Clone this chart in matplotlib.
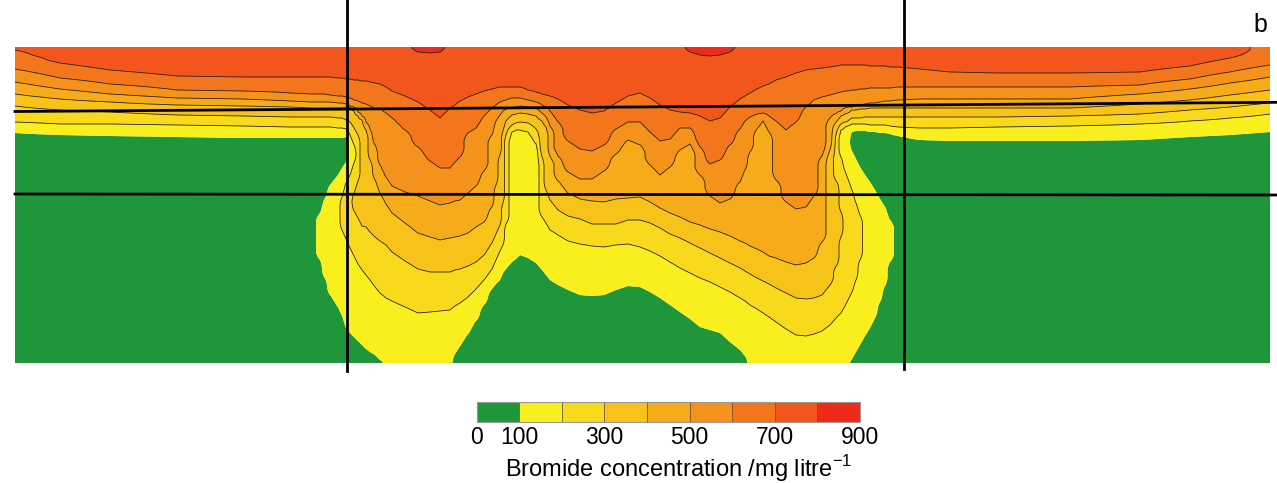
import numpy as np
import matplotlib
matplotlib.use("Agg")
import matplotlib.pyplot as plt

plt.rcParams['font.family'] = ['Liberation Sans', 'DejaVu Sans']

# concentration classes (mg/l) and their colours
levels = [0, 100, 200, 300, 400, 500, 600, 700, 800, 900]
band_colors = ['#1f963a', '#f9ef1f', '#f8d91c', '#f7c21a', '#f5ab1a',
               '#f4921b', '#f3751c', '#f2561c', '#ef2a1a']
line_levels = [200, 300, 400, 500, 600, 700, 800]
tick_values = [0, 100, 300, 500, 700, 900]
cbar_label = 'Bromide concentration /mg litre$^{\\mathregular{-1}}$'
panel_label = 'b'

# vertical profiles.
# each entry: x position, then (depth, concentration) where the profile enters a new class
left_side = [
    (15, [(47, 750), (50, 650), (69, 550), (82, 450), (94, 350), (106, 250), (122, 150), (133, 50)]),
    (60, [(47, 750), (63, 650), (78, 550), (89, 450), (99, 350), (110, 250), (124, 150), (135, 50)]),
    (110, [(47, 750), (70, 650), (84, 550), (94, 450), (102, 350), (112, 250), (124, 150), (136, 50)]),
    (177, [(47, 750), (76, 650), (90, 550), (98, 450), (105, 350), (115, 250), (125, 150), (137, 50)]),
    (243, [(47, 750), (77, 650), (91, 550), (99, 450), (106, 350), (116, 250), (126, 150), (138, 50)]),
    (290, [(47, 750), (77, 650), (93, 550), (101, 450), (107, 350), (117, 250), (127, 150), (138, 50)]),
    (312, [(47, 750), (77, 650), (94, 550), (102, 450), (108, 350), (117, 250), (127, 150), (138, 50)]),
]

left_lobe = [
    (320, [(47, 750), (77, 650), (94, 550), (102, 450), (108, 350), (117, 250), (127, 150), (138, 50),
           (213, 150), (260, 50)]),
    (324, [(47, 750), (77, 650), (94, 550), (102, 450), (108, 350), (117, 250), (127, 150), (138, 50),
           (200, 150), (277, 50)]),
    (330, [(47, 750), (77, 650), (95, 550), (102, 450), (108, 350), (117, 250), (127, 150), (138, 50),
           (185, 150), (295, 50)]),
    (338, [(47, 750), (78, 650), (96, 550), (103, 450), (108, 350), (118, 250), (128, 150), (138, 50),
           (175, 150), (307, 50)]),
    (342, [(47, 750), (78, 650), (96, 550), (103, 450), (108, 350), (118, 250), (128, 150), (138, 50),
           (168, 150), (197, 250), (230, 150), (316, 50)]),
    (346, [(47, 750), (79, 650), (97, 550), (104, 450), (107, 350), (120, 250), (129, 150), (137, 50),
           (162, 150), (183, 250), (239, 150), (328, 50)]),
    (350, [(47, 750), (79, 650), (98, 550), (106, 450), (107, 350), (122, 250), (135, 150), (175, 250),
           (248, 150), (333, 50)]),
    (354, [(47, 750), (80, 650), (100, 550), (107, 450), (111, 350), (128, 250), (145, 150), (163, 250),
           (193, 350), (211, 250), (256, 150), (337, 50)]),
    (358, [(47, 750), (80, 650), (101, 550), (112, 450), (116, 350), (135, 250), (181, 350), (218, 250),
           (264, 150), (341, 50)]),
    (362, [(47, 750), (81, 650), (103, 550), (116, 450), (120, 350), (226, 250), (270, 150), (345, 50)]),
    (366, [(47, 750), (81, 650), (104, 550), (122, 450), (130, 350), (227, 250), (275, 150), (349, 50)]),
    (370, [(47, 750), (82, 650), (106, 550), (129, 450), (160, 350), (232, 250), (280, 150), (352, 50)]),
    (375, [(47, 750), (83, 650), (108, 550), (145, 450), (180, 350), (237, 250), (287, 150), (355, 50)]),
    (380, [(47, 750), (84, 650), (109, 550), (165, 450), (193, 350), (241, 250), (293, 150), (360, 50)]),
    (386, [(47, 750), (87, 650), (113, 550), (177, 450), (204, 350), (245, 250), (298, 150)]),
    (392, [(47, 750), (91, 650), (118, 550), (186, 450), (213, 350), (252, 250), (301, 150)]),
    (405, [(47, 750), (96, 650), (130, 550), (192, 450), (223, 350), (261, 250), (307, 150)]),
    (418, [(47, 850), (52, 750), (102, 650), (147, 550), (196, 450), (233, 350), (269, 250), (313, 150)]),
    (430, [(47, 850), (53, 750), (110, 650), (161, 550), (201, 450), (237, 350), (272, 250), (312, 150)]),
    (440, [(47, 850), (52, 750), (118, 650), (168, 550), (205, 450), (240, 350), (272, 250), (311, 150)]),
    (450, [(47, 750), (108, 650), (168, 550), (203, 450), (238, 350), (272, 250), (310, 150)]),
    (455, [(47, 750), (105, 650), (162, 550), (201, 450), (237, 350), (270, 250), (306, 150), (354, 50)]),
    (460, [(47, 750), (101, 650), (157, 550), (200, 450), (236, 350), (269, 250), (303, 150), (346, 50)]),
    (468, [(47, 750), (97, 650), (133, 550), (193, 450), (233, 350), (266, 250), (297, 150), (334, 50)]),
    (476, [(47, 750), (94, 650), (128, 550), (186, 450), (227, 350), (262, 250), (289, 150), (321, 50)]),
    (484, [(47, 750), (91, 650), (116, 550), (171, 450), (222, 350), (255, 250), (280, 150), (305, 50)]),
    (492, [(47, 750), (89, 650), (108, 550), (135, 450), (207, 350), (243, 250), (269, 150), (289, 50)]),
    (496, [(47, 750), (88, 650), (105, 550), (121, 450), (185, 350), (234, 250), (260, 150), (284, 50)]),
    (500, [(47, 750), (87, 650), (102, 550), (115, 450), (155, 350), (225, 250), (251, 150), (280, 50)]),
]

bulb = [
    (503, [(47, 750), (87, 650), (101, 550), (111, 450), (131, 350), (203, 250), (245, 150), (273, 50)]),
    (506, [(47, 750), (87, 650), (100, 550), (109, 450), (121, 350), (135, 250), (224, 150), (269, 50)]),
    (512, [(47, 750), (87, 650), (98, 550), (108, 450), (115, 350), (125, 250), (132, 150), (262, 50)]),
    (516, [(47, 750), (87, 650), (98, 550), (107, 450), (114, 350), (123, 250), (130, 150), (259, 50)]),
    (520, [(47, 750), (87, 650), (98, 550), (106, 450), (113, 350), (122, 250), (130, 150), (255, 50)]),
    (528, [(47, 750), (90, 650), (100, 550), (107, 450), (114, 350), (123, 250), (132, 150), (258, 50)]),
    (536, [(47, 750), (92, 650), (102, 550), (108, 450), (116, 350), (129, 250), (144, 150), (263, 50)]),
    (542, [(47, 750), (94, 650), (105, 550), (113, 450), (121, 350), (157, 250), (217, 150), (270, 50)]),
    (546, [(47, 750), (95, 650), (107, 550), (117, 450), (127, 350), (190, 250), (223, 150), (275, 50)]),
    (550, [(47, 750), (96, 650), (111, 550), (126, 450), (156, 350), (200, 250), (230, 150), (280, 50)]),
]

middle_lobe = [
    (558, [(47, 750), (99, 650), (122, 550), (156, 450), (181, 350), (210, 250), (235, 150), (285, 50)]),
    (568, [(47, 750), (105, 650), (141, 550), (172, 450), (193, 350), (216, 250), (241, 150), (290, 50)]),
    (580, [(47, 750), (110, 650), (149, 550), (179, 450), (199, 350), (219, 250), (244, 150), (295, 50)]),
    (592, [(47, 750), (113, 650), (151, 550), (179, 450), (201, 350), (224, 250), (246, 150), (296, 50)]),
    (604, [(47, 750), (111, 650), (145, 550), (171, 450), (202, 350), (224, 250), (247, 150), (295, 50)]),
    (616, [(47, 750), (103, 650), (129, 550), (154, 450), (199, 350), (224, 250), (245, 150), (290, 50)]),
    (628, [(47, 750), (96, 650), (122, 550), (140, 450), (198, 350), (220, 250), (244, 150), (286, 50)]),
    (640, [(47, 750), (93, 650), (122, 550), (145, 450), (197, 350), (220, 250), (247, 150), (287, 50)]),
    (650, [(47, 750), (98, 650), (132, 550), (165, 450), (202, 350), (223, 250), (251, 150), (292, 50)]),
    (660, [(47, 750), (105, 650), (141, 550), (175, 450), (208, 350), (228, 250), (256, 150), (298, 50)]),
    (670, [(47, 750), (110, 650), (139, 550), (167, 450), (213, 350), (234, 250), (262, 150), (305, 50)]),
    (680, [(47, 750), (112, 650), (128, 550), (150, 450), (217, 350), (238, 250), (268, 150), (312, 50)]),
    (690, [(47, 850), (52, 750), (113, 650), (128, 550), (144, 450), (222, 350), (243, 250), (273, 150),
           (319, 50)]),
    (700, [(47, 850), (55, 750), (116, 650), (147, 550), (175, 450), (225, 350), (248, 250), (278, 150),
           (327, 50)]),
    (710, [(47, 850), (56, 750), (121, 650), (164, 550), (196, 450), (229, 350), (253, 250), (282, 150),
           (330, 50)]),
    (720, [(47, 850), (55, 750), (118, 650), (160, 550), (203, 450), (232, 350), (258, 250), (287, 150),
           (333, 50)]),
    (730, [(47, 850), (52, 750), (107, 650), (145, 550), (199, 450), (236, 350), (263, 250), (292, 150),
           (342, 50)]),
    (740, [(47, 750), (99, 650), (129, 550), (182, 450), (241, 350), (268, 250), (298, 150), (350, 50)]),
    (745, [(47, 750), (96, 650), (121, 550), (170, 450), (243, 350), (271, 250), (301, 150), (356, 50)]),
    (750, [(47, 750), (93, 650), (117, 550), (152, 450), (246, 350), (274, 250), (305, 150)]),
    (757, [(47, 750), (89, 650), (114, 550), (129, 450), (249, 350), (278, 250), (309, 150)]),
]

right_lobe = [
    (763, [(47, 750), (86, 650), (113, 550), (121, 450), (252, 350), (281, 250), (313, 150)]),
    (769, [(47, 750), (84, 650), (116, 550), (132, 450), (256, 350), (284, 250), (317, 150)]),
    (776, [(47, 750), (80, 650), (121, 550), (180, 450), (258, 350), (288, 250), (322, 150)]),
    (786, [(47, 750), (77, 650), (130, 550), (202, 450), (262, 350), (293, 250), (329, 150)]),
    (796, [(47, 750), (73, 650), (122, 550), (209, 450), (265, 350), (298, 250), (335, 150)]),
    (806, [(47, 750), (70, 650), (107, 550), (207, 450), (263, 350), (299, 250), (336, 150)]),
    (814, [(47, 750), (69, 650), (100, 550), (196, 450), (258, 350), (298, 250), (334, 150)]),
    (822, [(47, 750), (68, 650), (97, 550), (156, 450), (242, 350), (295, 250), (331, 150)]),
    (830, [(47, 750), (67, 650), (95, 550), (118, 450), (150, 350), (285, 250), (325, 150)]),
]

hook = [
    (837, [(47, 750), (66, 650), (93, 550), (113, 450), (121, 350), (131, 250), (182, 350), (265, 250),
           (317, 150)]),
    (841, [(47, 750), (65, 650), (92, 550), (111, 450), (116, 350), (124, 250), (130, 150), (157, 250),
           (212, 350), (237, 250), (313, 150)]),
    (845, [(47, 750), (65, 650), (91, 550), (108, 450), (114, 350), (122, 250), (127, 150), (171, 250),
           (306, 150)]),
    (848, [(47, 750), (65, 650), (91, 550), (107, 450), (113, 350), (121, 250), (126, 150), (179, 250),
           (300, 150)]),
    (852, [(47, 750), (65, 650), (90, 550), (107, 450), (110, 350), (118, 250), (124, 150), (132, 50),
           (151, 150), (190, 250), (292, 150), (359, 50)]),
    (856, [(47, 750), (65, 650), (90, 550), (106, 450), (110, 350), (118, 250), (124, 150), (131, 50),
           (159, 150), (203, 250), (280, 150), (352, 50)]),
    (860, [(47, 750), (65, 650), (89, 550), (105, 450), (109, 350), (118, 250), (124, 150), (131, 50),
           (167, 150), (215, 250), (260, 150), (345, 50)]),
    (865, [(47, 750), (65, 650), (89, 550), (104, 450), (109, 350), (117, 250), (124, 150), (131, 50),
           (175, 150), (336, 50)]),
    (870, [(47, 750), (66, 650), (88, 550), (103, 450), (108, 350), (117, 250), (125, 150), (132, 50),
           (182, 150), (328, 50)]),
    (875, [(47, 750), (66, 650), (88, 550), (103, 450), (108, 350), (117, 250), (125, 150), (132, 50),
           (190, 150), (318, 50)]),
    (880, [(47, 750), (66, 650), (88, 550), (102, 450), (108, 350), (117, 250), (125, 150), (133, 50),
           (199, 150), (302, 50)]),
    (885, [(47, 750), (66, 650), (88, 550), (101, 450), (108, 350), (117, 250), (125, 150), (133, 50),
           (207, 150), (286, 50)]),
    (890, [(47, 750), (67, 650), (88, 550), (101, 450), (108, 350), (117, 250), (126, 150), (134, 50),
           (220, 150), (262, 50)]),
    (898, [(47, 750), (67, 650), (87, 550), (100, 450), (108, 350), (117, 250), (127, 150), (136, 50)]),
]

right_side = [
    (920, [(47, 750), (69, 650), (87, 550), (99, 450), (108, 350), (117, 250), (128, 150), (140, 50)]),
    (950, [(47, 750), (72, 650), (87, 550), (99, 450), (108, 350), (117, 250), (128, 150), (141, 50)]),
    (1000, [(47, 750), (73, 650), (87, 550), (99, 450), (108, 350), (117, 250), (127, 150), (141, 50)]),
    (1070, [(47, 750), (73, 650), (87, 550), (99, 450), (108, 350), (116, 250), (126, 150), (141, 50)]),
    (1140, [(47, 750), (72, 650), (85, 550), (94, 450), (104, 350), (114, 250), (124, 150), (140, 50)]),
    (1190, [(47, 750), (66, 650), (79, 550), (89, 450), (100, 350), (110, 250), (121, 150), (137, 50)]),
    (1230, [(47, 750), (58, 650), (72, 550), (83, 450), (95, 350), (107, 250), (118, 150), (135, 50)]),
    (1270, [(47, 650), (65, 550), (77, 450), (90, 350), (103, 250), (114, 150), (132, 50)]),
]

depth = np.arange(47, 364, 1.0)
RAMP = 8  # half-width of the change across a class boundary


def column_profile(steps):
    # boundaries carry the boundary value, wide classes sit flat at their own value
    bounds = [(y1, (v0 + v1) / 2) for (_, v0), (y1, v1) in zip(steps, steps[1:])]
    ys, vs = [], []
    for i, (_, v) in enumerate(steps):
        above = bounds[i - 1] if i > 0 else None
        below = bounds[i] if i < len(bounds) else None
        a = above[0] if above else depth[0]
        b = below[0] if below else depth[-1]
        if above:
            ys.append(a)
            vs.append(above[1])
        lo = a + RAMP if above else a
        hi = b - RAMP if below else b
        if hi > lo:
            ys += [lo, hi]
            vs += [v, v]
        elif above and below and above[1] == below[1]:
            ys.append((a + b) / 2)
            vs.append(v)
        elif not above:
            ys.append(a)
            vs.append(v)
        elif not below:
            ys.append(b)
            vs.append(v)
    return np.interp(depth, ys, vs)


profiles = sorted(left_side + left_lobe + bulb + middle_lobe + right_lobe + hook + right_side)
dist = np.array([p[0] for p in profiles], dtype=float)
conc = np.column_stack([column_profile(p[1]) for p in profiles])

fig = plt.figure(figsize=(12.77, 4.83), dpi=100)
ax = fig.add_axes([15 / 1277, 120 / 483, 1255 / 1277, 316 / 483])

cf = ax.contourf(dist, depth, conc, levels=levels, colors=band_colors, antialiased=True)
ax.contour(dist, depth, conc, levels=line_levels, colors='#1a1208', linewidths=0.55)

ax.set_xlim(15, 1270)
ax.set_ylim(363, 47)
ax.axis('off')

# section lines over the plot
ax.plot([347, 347], [0, 371], color='k', lw=2.0, clip_on=False)
ax.plot([904, 904], [0, 369], color='k', lw=2.0, clip_on=False)
ax.plot([15, 1277], [111.5, 102.3], color='k', lw=2.0, clip_on=False)
ax.plot([15, 1277], [194, 195], color='k', lw=2.0, clip_on=False)

fig.text(1260 / 1277, 1 - 25 / 483, panel_label, fontsize=18, ha='center', va='center')

cax = fig.add_axes([476.7 / 1277, (483 - 421.7) / 483, 383.3 / 1277, 20 / 483])
cb = fig.colorbar(cf, cax=cax, orientation='horizontal', ticks=tick_values, drawedges=True)
cb.outline.set_edgecolor('#999999')
cb.outline.set_linewidth(0.8)
cb.dividers.set_color('#6b5a30')
cb.dividers.set_linewidth(0.6)
cax.tick_params(length=0, labelsize=16.5, pad=3)
cb.set_label(cbar_label, fontsize=17, labelpad=1)
cax.xaxis.set_label_coords(0.527, -1.55)

fig.savefig('out.png', dpi=100)
